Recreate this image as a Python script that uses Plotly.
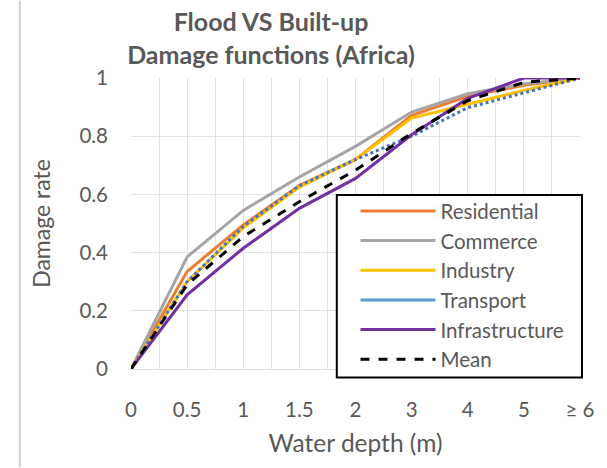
import plotly.graph_objects as go

categories = ["0", "0.5", "1", "1.5", "2", "3", "4", "5", "≥ 6"]
residential = [0, 0.335, 0.495, 0.63, 0.72, 0.872, 0.937, 0.975, 1.0]
commerce = [0, 0.385, 0.545, 0.66, 0.765, 0.883, 0.946, 0.98, 1.0]
industry = [0, 0.30, 0.485, 0.625, 0.72, 0.862, 0.91, 0.957, 1.0]
transport = [0, 0.30, 0.49, 0.63, 0.72, 0.80, 0.898, 0.95, 1.0]
infrastructure = [0, 0.255, 0.415, 0.552, 0.655, 0.805, 0.93, 1.0, 1.0]
mean = [0, 0.29, 0.455, 0.575, 0.683, 0.81, 0.922, 0.985, 1.0]

xi = list(range(len(categories)))
FONT = "Lato, Carlito, 'Liberation Sans', sans-serif"
GRAY = "#595959"

L, R, T, B = 131, 20, 77.5, 98.5
PW, PH = 607 - L - R, 468 - T - B

def px(xp):
    return (xp - L) / PW

def py(yp):
    return (468 - B - yp) / PH

fig = go.Figure()
series = [
    ("Residential", residential, "#ED7D31", "solid"),
    ("Commerce", commerce, "#A5A5A5", "solid"),
    ("Industry", industry, "#FFC000", "solid"),
]
for name, ys, col, dash in series:
    fig.add_trace(go.Scatter(x=xi, y=ys, name=name, mode="lines",
                             line=dict(color=col, width=3, dash=dash)))
# Transport drawn dotted, legend shown solid
fig.add_trace(go.Scatter(x=xi, y=transport, name="Transport", mode="lines",
                         line=dict(color="#4472C4", width=3, dash="dot"),
                         showlegend=False))
fig.add_trace(go.Scatter(x=[None], y=[None], name="Transport", mode="lines",
                         line=dict(color="#5B9BD5", width=3)))
fig.add_trace(go.Scatter(x=xi, y=infrastructure, name="Infrastructure", mode="lines",
                         line=dict(color="#7030A0", width=3)))
fig.add_trace(go.Scatter(x=xi, y=mean, name="Mean", mode="lines",
                         line=dict(color="black", width=3, dash="dash")))

fig.update_layout(
    width=607, height=468,
    margin=dict(l=L, r=R, t=T, b=B),
    paper_bgcolor="white", plot_bgcolor="white",
    font=dict(family=FONT, color=GRAY, size=20),
    title=dict(text="<b>Flood VS Built-up<br>Damage functions (Africa)</b>",
               x=271/607, xanchor="center", y=1 - 31/468, yanchor="middle",
               font=dict(size=25, color=GRAY, family=FONT)),
    legend=dict(x=px(359), y=py(191), xanchor="left", yanchor="top",
                bgcolor="rgba(0,0,0,0)", borderwidth=0,
                font=dict(size=20.5, color=GRAY, family=FONT),
                tracegroupgap=0, itemwidth=75),
    showlegend=True,
)
# legend frame
fig.add_shape(type="rect", xref="paper", yref="paper",
              x0=px(340), x1=px(589), y0=py(378), y1=py(195),
              fillcolor="white", line=dict(color="black", width=2), layer="above")
fig.update_xaxes(
    range=[0, len(categories) - 1], tickvals=xi, ticktext=categories,
    showgrid=True, gridcolor="#E3E3E3", gridwidth=1,
    minor=dict(dtick=0.5, tick0=0, showgrid=True, gridcolor="#E3E3E3", gridwidth=1),
    zeroline=False, showline=True, linecolor="#D9D9D9", linewidth=1,
    ticks="", tickfont=dict(size=20.5, color=GRAY), ticklabelstandoff=22,
    title=dict(text="Water depth (m)", font=dict(size=24.5, color=GRAY), standoff=15),
)
fig.update_yaxes(
    range=[0, 1], dtick=0.2, tickvals=[0, 0.2, 0.4, 0.6, 0.8, 1],
    ticktext=["0", "0.2", "0.4", "0.6", "0.8", "1"],
    showgrid=True, gridcolor="#E3E3E3", gridwidth=1,
    zeroline=False, showline=False, ticks="",
    tickfont=dict(size=20.5, color=GRAY), ticklabelstandoff=22,
    title=dict(text="Damage rate", font=dict(size=23, color=GRAY), standoff=22),
)
fig.add_shape(type="line", xref="paper", yref="paper", x0=px(18), x1=px(18),
              y0=py(468), y1=py(0), line=dict(color="#D0D0D0", width=2))

fig.write_html("out.html")
